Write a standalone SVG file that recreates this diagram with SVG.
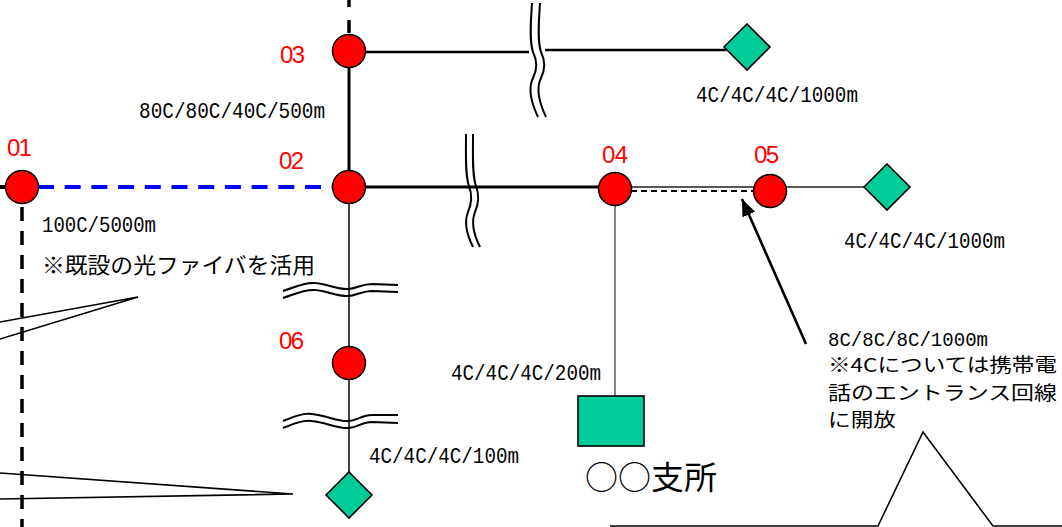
<svg xmlns="http://www.w3.org/2000/svg" width="1062" height="527" viewBox="0 0 1062 527">
<style>
.node{fill:#FF0000;stroke:#000;stroke-width:1.5}
.term{fill:#00CC99;stroke:#000;stroke-width:1.6}
.id{font-family:"Liberation Sans",Arial,sans-serif;font-size:24px;fill:#FF0000}
.lbl{font-family:"Liberation Mono","DejaVu Sans Mono",monospace;font-size:22px;fill:#000}
.jp{font-family:"Noto Sans CJK JP","Noto Sans CJK SC",sans-serif;font-size:22px;fill:#000}
.jps{font-family:"Noto Sans CJK JP","Noto Sans CJK SC",sans-serif;font-size:19px;fill:#000}
.big{font-family:"Noto Sans CJK JP","Noto Sans CJK SC",sans-serif;font-size:32px;fill:#000}
.thick{stroke:#000;stroke-width:3;fill:none}
.mid{stroke:#000;stroke-width:2.4;fill:none}
.thin{stroke:#000;stroke-width:1.5;fill:none}
.brk{stroke:#000;stroke-width:2;fill:none}
.call{stroke:#000;stroke-width:1.6;fill:none}
</style>
<defs>
<marker id="arr" viewBox="0 0 10 10" refX="10" refY="5" markerUnits="userSpaceOnUse" markerWidth="17" markerHeight="14" orient="auto" preserveAspectRatio="none">
<path d="M0,0 L10,5 L0,10 z" fill="#000"/>
</marker>
</defs>
<rect width="1062" height="527" fill="#fff"/>

<g id="connectors">
<line x1="-5" y1="187" x2="15" y2="187" stroke="#000" stroke-width="4"/>
<line x1="38" y1="187" x2="333" y2="187" stroke="#0000FF" stroke-width="4" stroke-dasharray="16,10.7"/>
<line x1="22" y1="207" x2="22" y2="527" stroke="#000" stroke-width="3.5" stroke-dasharray="14,10"/>
<line x1="349" y1="-6" x2="349" y2="35" stroke="#000" stroke-width="3.5" stroke-dasharray="13,13"/>
<line x1="349" y1="51" x2="349" y2="187" class="thick"/>
<line x1="366" y1="52" x2="529" y2="52" class="mid"/>
<line x1="545" y1="50" x2="726" y2="50" class="mid"/>
<line x1="366" y1="187" x2="600" y2="187" class="thick"/>
<line x1="630" y1="187" x2="755" y2="187" stroke="#222" stroke-width="1.4"/>
<line x1="631" y1="191" x2="754" y2="191" stroke="#000" stroke-width="2" stroke-dasharray="6,4"/>
<line x1="786" y1="187" x2="866" y2="187" stroke="#222" stroke-width="1.5"/>
<line x1="615" y1="205" x2="615" y2="396" stroke="#444" stroke-width="1.3"/>
<line x1="349" y1="203" x2="349" y2="472" class="thin"/>
<line x1="806" y1="344" x2="742" y2="199" stroke="#000" stroke-width="2.6" marker-end="url(#arr)"/>
</g>

<g id="breaks">
<path class="brk" d="M532,3 C531,20 529,40 533,52 C537,60 538,68 533,78 C528,88 530,100 538,117"/>
<path class="brk" d="M540,3 C539,20 537,40 541,52 C545,60 546,68 541,78 C536,88 538,100 546,117"/>
<path class="brk" d="M466,134 C466,155 465,175 469,186 C472,194 472,203 468,212 C464,222 467,235 473,247"/>
<path class="brk" d="M473,134 C473,155 472,175 476,186 C479,194 479,203 475,212 C471,222 474,235 480,247"/>
<path class="brk" d="M283,291 C295,287 305,282 315,283 C328,284 338,290 349,289 C358,288 362,284 372,284 L398,285"/>
<path class="brk" d="M283,298 C295,294 305,289 315,290 C328,291 338,297 349,296 C358,295 362,291 372,291 L398,292"/>
<path class="brk" d="M283,421 C293,417 302,413 312,414 C325,415 338,422 349,421 C358,420 362,415 372,415 L398,415"/>
<path class="brk" d="M283,428 C293,424 302,420 312,421 C325,422 338,429 349,428 C358,427 362,422 372,422 L398,423"/>
</g>

<g id="callouts">
<polyline class="call" points="0,322 138,297 0,339"/>
<polyline class="call" points="0,473 293,494 0,499"/>
<polyline class="call" stroke="#333" points="610,526 878,526 923,432 993,526 1062,526"/>
</g>

<g id="node-01"><circle class="node" cx="22" cy="187" r="16.5"/><text class="id" x="7" y="156" textLength="25">01</text></g>
<g id="node-02"><circle class="node" cx="349" cy="187" r="16.5"/><text class="id" x="279" y="169" textLength="25">02</text></g>
<g id="node-03"><circle class="node" cx="349" cy="51" r="16.5"/><text class="id" x="280" y="63" textLength="25">03</text></g>
<g id="node-04"><circle class="node" cx="615" cy="189" r="16.5"/><text class="id" x="602" y="163" textLength="26">04</text></g>
<g id="node-05"><circle class="node" cx="770" cy="191" r="16.5"/><text class="id" x="754" y="163" textLength="25">05</text></g>
<g id="node-06"><circle class="node" cx="349" cy="363" r="16.5"/><text class="id" x="279" y="349" textLength="25">06</text></g>

<g id="term-top"><polygon class="term" points="747,24 770,47 747,70 724,47"/></g>
<g id="term-right"><polygon class="term" points="887,164 910,187 887,210 864,187"/></g>
<g id="term-bottom"><polygon class="term" points="349,472 372,495 349,518 326,495"/></g>
<g id="branch"><rect class="term" x="578" y="396" width="66" height="50"/><text class="big" x="585" y="489" textLength="132" lengthAdjust="spacingAndGlyphs">○○支所</text></g>

<g id="labels">
<text class="lbl" x="139" y="118" textLength="186" lengthAdjust="spacingAndGlyphs">80C/80C/40C/500m</text>
<text class="lbl" x="42" y="232" textLength="114" lengthAdjust="spacingAndGlyphs">100C/5000m</text>
<text class="jp" x="42" y="273" textLength="273" lengthAdjust="spacingAndGlyphs">※既設の光ファイバを活用</text>
<text class="lbl" x="696" y="102" textLength="162" lengthAdjust="spacingAndGlyphs">4C/4C/4C/1000m</text>
<text class="lbl" x="844" y="248" textLength="161" lengthAdjust="spacingAndGlyphs">4C/4C/4C/1000m</text>
<text class="lbl" x="451" y="380" textLength="150" lengthAdjust="spacingAndGlyphs">4C/4C/4C/200m</text>
<text class="lbl" x="369" y="463" textLength="150" lengthAdjust="spacingAndGlyphs">4C/4C/4C/100m</text>
<text class="lbl" x="828" y="346" textLength="160" lengthAdjust="spacingAndGlyphs" style="font-size:20px">8C/8C/8C/1000m</text>
<text class="jps" x="828" y="372" textLength="229" lengthAdjust="spacingAndGlyphs">※4Cについては携帯電</text>
<text class="jps" x="828" y="399.5" textLength="229" lengthAdjust="spacingAndGlyphs">話のエントランス回線</text>
<text class="jps" x="828" y="427" textLength="68" lengthAdjust="spacingAndGlyphs">に開放</text>
</g>
</svg>
